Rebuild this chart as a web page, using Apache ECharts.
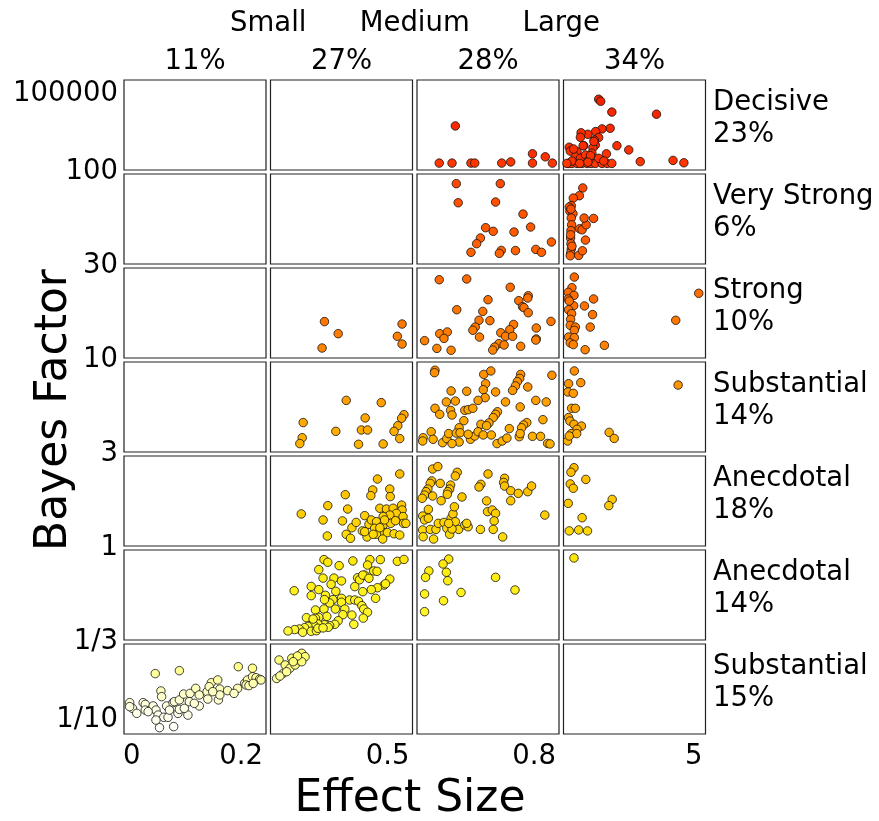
<!DOCTYPE html>
<html>
<head>
<meta charset="utf-8">
<script src="https://cdn.jsdelivr.net/npm/echarts@6/dist/echarts.min.js"></script>
<style>
html,body{margin:0;padding:0;background:#fff;}
#chart{width:879px;height:821px;}
</style>
</head>
<body>
<div id="chart"></div>
<script>
// ---------- labels ----------
const rowNames = ['Decisive', 'Very Strong', 'Strong', 'Substantial', 'Anecdotal', 'Anecdotal', 'Substantial'];
const rowPct = ['23%', '6%', '10%', '14%', '18%', '14%', '15%'];
const colPct = ['11%', '27%', '28%', '34%'];
const sizeLabels = ['Small', 'Medium', 'Large'];
const xTickLabels = ['0', '0.2', '0.5', '0.8', '5'];
const yTickLabels = ['100000', '100', '30', '10', '3', '1', '1/3', '1/10'];
// effect-size column breaks, log10(Bayes factor) row breaks (top to bottom)
const xBreaks = [0, 0.2, 0.5, 0.8, 5];
const yBreaks = [5, 2, Math.log10(30), 1, Math.log10(3), 0, -Math.log10(3), -1];

// ---------- data: [effect size, log10 Bayes factor] ----------
const decisive = [
[0.581,3.47],[0.547,2.23],[0.574,2.23],[0.614,2.23],[0.622,2.23],[0.679,2.23],[0.698,2.27],[0.744,2.54],[0.744,2.23],[0.771,2.44],[0.786,2.23],
[1.84,4.36],[1.90,4.29],[2.23,3.93],[3.55,3.86],[2.18,3.39],[1.94,3.37],[1.75,3.28],[1.52,3.19],[1.32,3.24],[1.30,3.09],[1.84,3.08],[1.71,3.00],[1.74,2.83],[2.38,2.81],[2.73,2.67],[0.97,2.76],[1.40,2.81],[1.67,2.74],[1.20,2.61],[1.00,2.63],[1.64,2.56],[2.07,2.54],[3.07,2.28],[4.04,2.32],[4.36,2.24],[0.95,2.22],[1.05,2.22],[1.20,2.22],[1.35,2.22],[1.50,2.22],[1.62,2.22],[1.74,2.22],[1.94,2.22],[2.09,2.22],[2.23,2.22],[1.15,2.44],[1.30,2.39],[1.45,2.50],[1.55,2.33],[1.84,2.39],[1.99,2.30],[1.05,2.30],[0.90,2.22],[1.60,2.48],[1.10,2.70],[1.38,2.81],[1.52,2.26],[1.28,2.22],[1.70,2.95]
];
const veryStrong = [
[0.583,1.944],[0.676,1.944],[0.587,1.833],[0.666,1.837],[0.724,1.767],[0.645,1.688],[0.661,1.667],[0.705,1.663],[0.740,1.692],[0.634,1.628],[0.626,1.595],[0.614,1.545],[0.678,1.556],[0.674,1.539],[0.708,1.555],[0.751,1.562],[0.763,1.545],[0.784,1.605],
[1.37,1.919],[1.27,1.874],[1.09,1.860],[1.03,1.816],[0.97,1.808],[0.99,1.783],[1.08,1.769],[1.03,1.744],[1.04,1.705],[1.02,1.671],[1.01,1.628],[1.02,1.595],[1.03,1.564],[1.01,1.541],[1.00,1.525],[1.25,1.527],[1.36,1.554],[1.45,1.616],[1.28,1.682],[1.35,1.676],[1.47,1.705],[1.41,1.744],[1.69,1.742],[1.01,1.647],[1.05,1.580],[1.02,1.796]
];
const strong = [
[0.314,1.193],[0.343,1.129],[0.309,1.053],[0.478,1.180],[0.468,1.115],[0.478,1.074],
[0.547,1.415],[0.605,1.419],[0.697,1.375],[0.650,1.309],[0.584,1.256],[0.639,1.247],[0.715,1.304],[0.735,1.330],[0.734,1.318],[0.723,1.272],[0.726,1.267],[0.735,1.240],[0.631,1.200],[0.654,1.198],[0.623,1.164],[0.618,1.147],[0.704,1.178],[0.696,1.150],[0.783,1.194],[0.752,1.159],[0.548,1.129],[0.564,1.138],[0.557,1.104],[0.516,1.092],[0.542,1.051],[0.572,1.041],[0.632,1.111],[0.677,1.134],[0.687,1.115],[0.702,1.115],[0.673,1.076],[0.684,1.069],[0.664,1.058],[0.660,1.042],[0.719,1.062],[0.752,1.101],[0.751,1.095],
[1.12,1.429],[1.05,1.373],[0.94,1.348],[1.11,1.332],[0.94,1.313],[1.10,1.277],[0.95,1.256],[1.04,1.235],[1.01,1.205],[1.00,1.173],[1.15,1.164],[1.12,1.147],[0.95,1.111],[1.12,1.108],[1.00,1.080],[1.09,1.071],[1.44,1.044],[2.01,1.067],[1.59,1.164],[1.66,1.230],[1.42,1.276],[1.69,1.313],[4.12,1.200],[4.80,1.343],[0.97,1.302]
];
const substantial = [
[0.360,0.777],[0.434,0.764],[0.269,0.648],[0.267,0.560],[0.262,0.526],[0.338,0.597],[0.400,0.675],[0.392,0.605],[0.405,0.605],[0.482,0.694],[0.477,0.673],[0.469,0.630],[0.461,0.597],[0.473,0.555],[0.386,0.522],[0.438,0.524],
[0.538,0.952],[0.537,0.938],[0.641,0.928],[0.656,0.948],[0.645,0.874],[0.640,0.839],[0.719,0.928],[0.717,0.905],[0.712,0.886],[0.708,0.861],[0.702,0.835],[0.734,0.855],[0.785,0.923],[0.572,0.832],[0.605,0.830],[0.666,0.826],[0.644,0.793],[0.629,0.777],[0.562,0.768],[0.581,0.773],[0.687,0.768],[0.751,0.777],[0.773,0.768],[0.538,0.731],[0.571,0.719],[0.548,0.696],[0.574,0.692],[0.601,0.719],[0.608,0.723],[0.618,0.731],[0.718,0.739],[0.670,0.711],[0.666,0.696],[0.661,0.677],[0.599,0.659],[0.766,0.665],[0.652,0.646],[0.635,0.638],[0.647,0.630],[0.732,0.648],[0.725,0.634],[0.721,0.618],[0.695,0.613],[0.589,0.618],[0.530,0.595],[0.513,0.560],[0.534,0.551],[0.512,0.541],[0.554,0.531],[0.563,0.555],[0.567,0.584],[0.583,0.587],[0.589,0.535],[0.574,0.526],[0.591,0.589],[0.613,0.551],[0.622,0.570],[0.629,0.595],[0.640,0.576],[0.657,0.576],[0.669,0.526],[0.680,0.541],[0.690,0.558],[0.716,0.566],[0.718,0.584],[0.744,0.568],[0.761,0.568],[0.776,0.527],[0.781,0.524],[0.608,0.580],
[1.12,0.948],[0.95,0.874],[1.31,0.880],[0.93,0.826],[1.09,0.818],[1.04,0.731],[1.15,0.731],[0.95,0.677],[0.99,0.657],[1.11,0.638],[1.33,0.628],[1.20,0.609],[1.03,0.584],[1.19,0.584],[0.92,0.541],[2.15,0.591],[2.30,0.556],[4.19,0.866],[0.97,0.570]
];
const anecdotalFor = [
[0.265,0.170],[0.321,0.214],[0.311,0.138],[0.320,0.053],[0.358,0.272],[0.363,0.196],[0.352,0.133],[0.360,0.062],[0.369,0.041],[0.372,0.097],[0.381,0.125],[0.394,0.080],[0.399,0.161],[0.404,0.048],[0.408,0.115],[0.413,0.138],[0.416,0.297],[0.412,0.267],[0.426,0.355],[0.452,0.302],[0.453,0.262],[0.473,0.382],[0.431,0.200],[0.445,0.196],[0.459,0.200],[0.477,0.217],[0.478,0.191],[0.466,0.173],[0.452,0.164],[0.438,0.156],[0.480,0.156],[0.424,0.129],[0.438,0.111],[0.454,0.120],[0.481,0.120],[0.486,0.120],[0.420,0.094],[0.435,0.076],[0.447,0.071],[0.461,0.065],[0.473,0.058],[0.424,0.062],[0.437,0.037],[0.399,0.076],[0.417,0.062],[0.441,0.138],[0.464,0.134],[0.431,0.097],
[0.533,0.408],[0.544,0.421],[0.585,0.391],[0.581,0.371],[0.531,0.345],[0.528,0.332],[0.549,0.332],[0.523,0.302],[0.519,0.288],[0.516,0.270],[0.511,0.253],[0.533,0.265],[0.551,0.240],[0.571,0.323],[0.569,0.302],[0.565,0.288],[0.564,0.274],[0.595,0.260],[0.650,0.382],[0.635,0.327],[0.631,0.313],[0.685,0.359],[0.683,0.337],[0.685,0.318],[0.698,0.293],[0.698,0.240],[0.714,0.279],[0.734,0.288],[0.742,0.318],[0.647,0.239],[0.649,0.182],[0.659,0.191],[0.666,0.173],[0.663,0.133],[0.661,0.088],[0.634,0.088],[0.681,0.048],[0.770,0.164],[0.524,0.194],[0.512,0.159],[0.516,0.138],[0.524,0.147],[0.512,0.085],[0.513,0.049],[0.528,0.088],[0.535,0.037],[0.540,0.088],[0.545,0.120],[0.557,0.125],[0.563,0.094],[0.569,0.062],[0.572,0.147],[0.576,0.170],[0.579,0.208],[0.581,0.129],[0.588,0.088],[0.574,0.090],[0.601,0.111],[0.608,0.102],[0.605,0.120],[0.567,0.120],
[1.11,0.415],[1.02,0.391],[1.46,0.353],[1.00,0.329],[1.09,0.306],[0.94,0.226],[2.24,0.247],[2.14,0.214],[1.35,0.150],[0.97,0.080],[1.25,0.085],[1.51,0.080]
];
const anecdotalAgainst = [
[0.313,-0.051],[0.321,-0.065],[0.345,-0.083],[0.374,-0.058],[0.410,-0.051],[0.405,-0.080],[0.432,-0.051],[0.468,-0.060],[0.482,-0.050],[0.302,-0.104],[0.418,-0.111],[0.425,-0.113],[0.311,-0.149],[0.334,-0.149],[0.350,-0.164],[0.328,-0.182],[0.384,-0.147],[0.388,-0.158],[0.399,-0.133],[0.395,-0.133],[0.408,-0.150],[0.452,-0.154],[0.440,-0.186],[0.443,-0.179],[0.426,-0.200],[0.413,-0.210],[0.395,-0.221],[0.378,-0.194],[0.250,-0.216],[0.286,-0.193],[0.286,-0.242],[0.302,-0.210],[0.338,-0.219],[0.316,-0.240],[0.350,-0.256],[0.350,-0.277],[0.367,-0.265],[0.378,-0.265],[0.386,-0.272],[0.422,-0.256],[0.332,-0.263],[0.325,-0.281],[0.314,-0.263],[0.393,-0.295],[0.397,-0.313],[0.357,-0.313],[0.337,-0.313],[0.313,-0.313],[0.295,-0.318],[0.405,-0.330],[0.353,-0.343],[0.372,-0.345],[0.319,-0.352],[0.302,-0.357],[0.295,-0.362],[0.276,-0.359],[0.396,-0.361],[0.343,-0.375],[0.336,-0.394],[0.325,-0.401],[0.314,-0.396],[0.300,-0.392],[0.290,-0.392],[0.279,-0.405],[0.376,-0.394],[0.322,-0.410],[0.272,-0.412],[0.261,-0.419],[0.251,-0.422],[0.237,-0.429],[0.268,-0.436],[0.286,-0.431],[0.297,-0.428],[0.300,-0.415],[0.311,-0.413],[0.290,-0.366],
[0.567,-0.048],[0.555,-0.074],[0.525,-0.111],[0.518,-0.145],[0.562,-0.118],[0.565,-0.163],[0.666,-0.145],[0.707,-0.212],[0.593,-0.225],[0.516,-0.233],[0.556,-0.269],[0.516,-0.327],
[1.11,-0.042]
];
const substantialAgainst = [
[0.044,-0.649],[0.078,-0.632],[0.161,-0.609],[0.181,-0.618],[0.052,-0.750],[0.053,-0.783],[0.008,-0.818],[0.012,-0.851],[0.018,-0.880],[0.008,-0.841],[0.027,-0.818],[0.030,-0.828],[0.041,-0.837],[0.045,-0.861],[0.048,-0.890],[0.030,-0.861],[0.056,-0.903],[0.062,-0.903],[0.050,-0.963],[0.070,-0.957],[0.060,-0.837],[0.069,-0.818],[0.076,-0.880],[0.078,-0.857],[0.090,-0.890],[0.085,-0.851],[0.071,-0.812],[0.078,-0.802],[0.084,-0.768],[0.093,-0.764],[0.092,-0.812],[0.101,-0.735],[0.106,-0.773],[0.106,-0.837],[0.099,-0.822],[0.117,-0.754],[0.123,-0.702],[0.118,-0.797],[0.120,-0.725],[0.132,-0.686],[0.133,-0.802],[0.135,-0.739],[0.135,-0.773],[0.125,-0.754],[0.146,-0.748],[0.160,-0.735],[0.155,-0.764],[0.170,-0.706],[0.174,-0.686],[0.181,-0.667],[0.186,-0.673],[0.191,-0.682],[0.193,-0.686],[0.172,-0.715],[0.176,-0.719],[0.182,-0.706],[0.064,-0.861],[0.045,-0.919],[0.034,-0.870],
[0.213,-0.677],[0.218,-0.570],[0.227,-0.647],[0.231,-0.599],[0.241,-0.618],[0.245,-0.560],[0.252,-0.599],[0.254,-0.570],[0.262,-0.541],[0.266,-0.531],[0.273,-0.551],[0.266,-0.580],[0.257,-0.547],[0.220,-0.663],[0.234,-0.638],[0.248,-0.580]
];
const rows = [decisive, veryStrong, strong, substantial, anecdotalFor, anecdotalAgainst, substantialAgainst];

// ---------- layout ----------
const FONT = 'DejaVu Sans';
const panelW = 142, panelH = 90;
const colLeft = [124, 270.5, 417, 563.5];
const rowTop = [80, 174, 268, 362, 456, 550, 644];

// colour by log10 BF
const colorStops = [
  [-1.0, [255,255,255]], [-0.85, [255,255,228]], [-0.7, [255,255,175]], [-0.55, [255,255,115]],
  [-0.42, [255,248,50]], [-0.1, [255,236,12]], [0.2, [255,202,0]], [0.7, [255,165,0]],
  [1.2, [255,118,0]], [1.7, [255,88,0]], [2.3, [255,50,0]], [5, [238,30,0]]
];
function colorFor(v) {
  if (v <= colorStops[0][0]) return 'rgb(255,255,255)';
  for (let i = 1; i < colorStops.length; i++) {
    if (v <= colorStops[i][0]) {
      const a = colorStops[i-1], b = colorStops[i];
      const t = (v - a[0]) / (b[0] - a[0]);
      const c = a[1].map((x, k) => Math.round(x + (b[1][k] - x) * t));
      return 'rgb(' + c.join(',') + ')';
    }
  }
  const c = colorStops[colorStops.length-1][1];
  return 'rgb(' + c.join(',') + ')';
}

const grids = [], xAxes = [], yAxes = [], series = [];
for (let r = 0; r < 7; r++) {
  for (let c = 0; c < 4; c++) {
    const idx = r * 4 + c;
    grids.push({
      left: colLeft[c], top: rowTop[r], width: panelW, height: panelH,
      show: true, borderColor: '#222', borderWidth: 1.2, backgroundColor: '#fff'
    });
    xAxes.push({ type: 'value', gridIndex: idx, min: xBreaks[c], max: xBreaks[c+1], show: false });
    yAxes.push({ type: 'value', gridIndex: idx, min: yBreaks[r+1], max: yBreaks[r], show: false });
    const pts = rows[r].filter(p => p[0] >= xBreaks[c] && (c === 3 ? p[0] <= xBreaks[c+1] : p[0] < xBreaks[c+1]));
    if (pts.length) {
      series.push({
        type: 'scatter', xAxisIndex: idx, yAxisIndex: idx, data: pts, clip: false,
        symbolSize: 8.5,
        itemStyle: { color: p => colorFor(p.value[1]), borderColor: '#111', borderWidth: 0.8, opacity: 1 },
        emphasis: { disabled: true }, silent: true
      });
    }
  }
}

const graphics = [];
function txt(x, y, text, opts) {
  graphics.push(Object.assign({
    type: 'text', x: x, y: y, silent: true,
    style: Object.assign({ text: text, fill: '#000', font: '27.5px "' + FONT + '"', textAlign: 'center', textVerticalAlign: 'middle' }, opts || {})
  }));
}
// column percentages
colPct.forEach((t, c) => txt(colLeft[c] + panelW / 2, 62, t));
// size labels between columns
sizeLabels.forEach((t, i) => txt((colLeft[i] + panelW + colLeft[i+1]) / 2, 24, t));
// row labels on the right
rowNames.forEach((t, r) => txt(713, rowTop[r] + panelH / 2 - 6, t + '\n' + rowPct[r], { textAlign: 'left', lineHeight: 32 }));
// y tick labels
yTickLabels.forEach((t, i) => {
  let y;
  if (i === 0) y = rowTop[0] + 14;
  else if (i === 7) y = rowTop[6] + panelH - 14;
  else y = rowTop[i] - 2;
  txt(118, y, t, { textAlign: 'right' });
});
// x tick labels
xTickLabels.forEach((t, i) => {
  if (i === 0) txt(colLeft[0] - 1, 757, t, { textAlign: 'left' });
  else txt(colLeft[i-1] + panelW - 3, 757, t, { textAlign: 'right' });
});
// axis titles
txt(410, 800, 'Effect Size', { font: '44px "' + FONT + '"' });
graphics.push({
  type: 'text', x: 55, y: 410, rotation: Math.PI / 2, silent: true,
  style: { text: 'Bayes Factor', fill: '#000', font: '44px "' + FONT + '"', textAlign: 'center', textVerticalAlign: 'middle' }
});

const chart = echarts.init(document.getElementById('chart'), null, { renderer: 'canvas' });
chart.setOption({
  backgroundColor: '#fff',
  animation: false,
  grid: grids,
  xAxis: xAxes,
  yAxis: yAxes,
  series: series,
  graphic: graphics
});
</script>
</body>
</html>
